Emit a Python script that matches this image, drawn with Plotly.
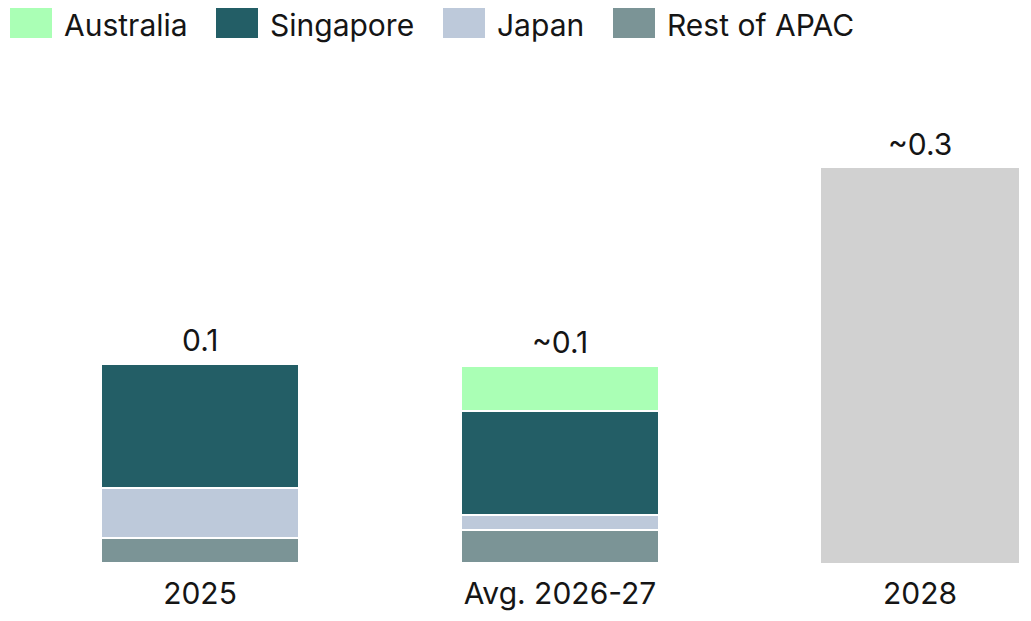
import plotly.graph_objects as go

categories = ["2025", "Avg. 2026-27", "2028"]
series_names = ["Rest of APAC", "Japan", "Singapore", "Australia"]
rest_of_apac = [0.019, 0.0253, None]
japan = [0.038, 0.0108, None]
singapore = [0.094, 0.079, None]
australia = [None, 0.0345, None]
total_2028 = [None, None, 0.3]
total_labels = ["0.1", "~0.1", "~0.3"]
legend_order = ["Australia", "Singapore", "Japan", "Rest of APAC"]

colors = {
    "Australia": "#aaffb5",
    "Singapore": "#235e66",
    "Japan": "#bdc9da",
    "Rest of APAC": "#7b9496",
}
total_color = "#d1d1d1"
FONT = "Inter, Roboto, sans-serif"
TXT = "#151515"
FS = 30

# page body has an 8px margin; positions below are in figure pixels
OFF = 8
W, H = 1031, 621
ML, MR, MT, MB = 12, 0, 0, 66
plot_w = W - ML - MR
plot_h = H - MT - MB
px_per_cat = 360.0
xmin = -0.5
xmax = xmin + plot_w / px_per_cat
ymax = 0.3 * plot_h / 395.3

fig = go.Figure()
series_vals = {"Rest of APAC": rest_of_apac, "Japan": japan,
               "Singapore": singapore, "Australia": australia}
for name in series_names:
    fig.add_trace(go.Bar(
        x=categories, y=series_vals[name], name=name,
        marker=dict(color=colors[name], line=dict(color="white", width=2)),
        width=0.55, showlegend=False, hoverinfo="skip",
    ))
fig.add_trace(go.Bar(
    x=categories, y=total_2028, name="Total",
    marker=dict(color=total_color, line=dict(color="white", width=0)),
    width=0.55, showlegend=False, hoverinfo="skip",
))

# totals labels
for i, cat in enumerate(categories):
    tot = sum(v[i] or 0 for v in [rest_of_apac, japan, singapore, australia, total_2028])
    fig.add_annotation(x=i, y=tot, text=total_labels[i], showarrow=False,
                       yanchor="bottom", yshift=4,
                       font=dict(family=FONT, size=FS, color=TXT))

# manual legend (reference-screenshot pixels converted to paper coords)
def px2paper_x(px):
    return (px - OFF - ML) / plot_w

def py2paper_y(py):
    return (H - MB - (py - OFF)) / plot_h

legend_x = [10, 216, 443, 613]
for name, x0 in zip(legend_order, legend_x):
    fig.add_shape(type="rect", xref="paper", yref="paper",
                  x0=px2paper_x(x0), x1=px2paper_x(x0 + 42),
                  y0=py2paper_y(38), y1=py2paper_y(8),
                  fillcolor=colors[name], line=dict(width=0))
    fig.add_annotation(xref="paper", yref="paper",
                       x=px2paper_x(x0 + 52), y=py2paper_y(25),
                       text=name, showarrow=False, xanchor="left", yanchor="middle",
                       font=dict(family=FONT, size=FS, color=TXT))

fig.update_layout(
    barmode="stack",
    width=W, height=H,
    margin=dict(l=ML, r=MR, t=MT, b=MB),
    paper_bgcolor="white", plot_bgcolor="white",
    showlegend=False,
    font=dict(family=FONT, size=FS, color=TXT),
    xaxis=dict(range=[xmin, xmax], showgrid=False, zeroline=False, showline=False,
               ticks="", ticklabelstandoff=10,
               tickfont=dict(family=FONT, size=FS, color=TXT),
               type="category"),
    yaxis=dict(range=[0, ymax], visible=False),
)

fig.write_html("out.html")
